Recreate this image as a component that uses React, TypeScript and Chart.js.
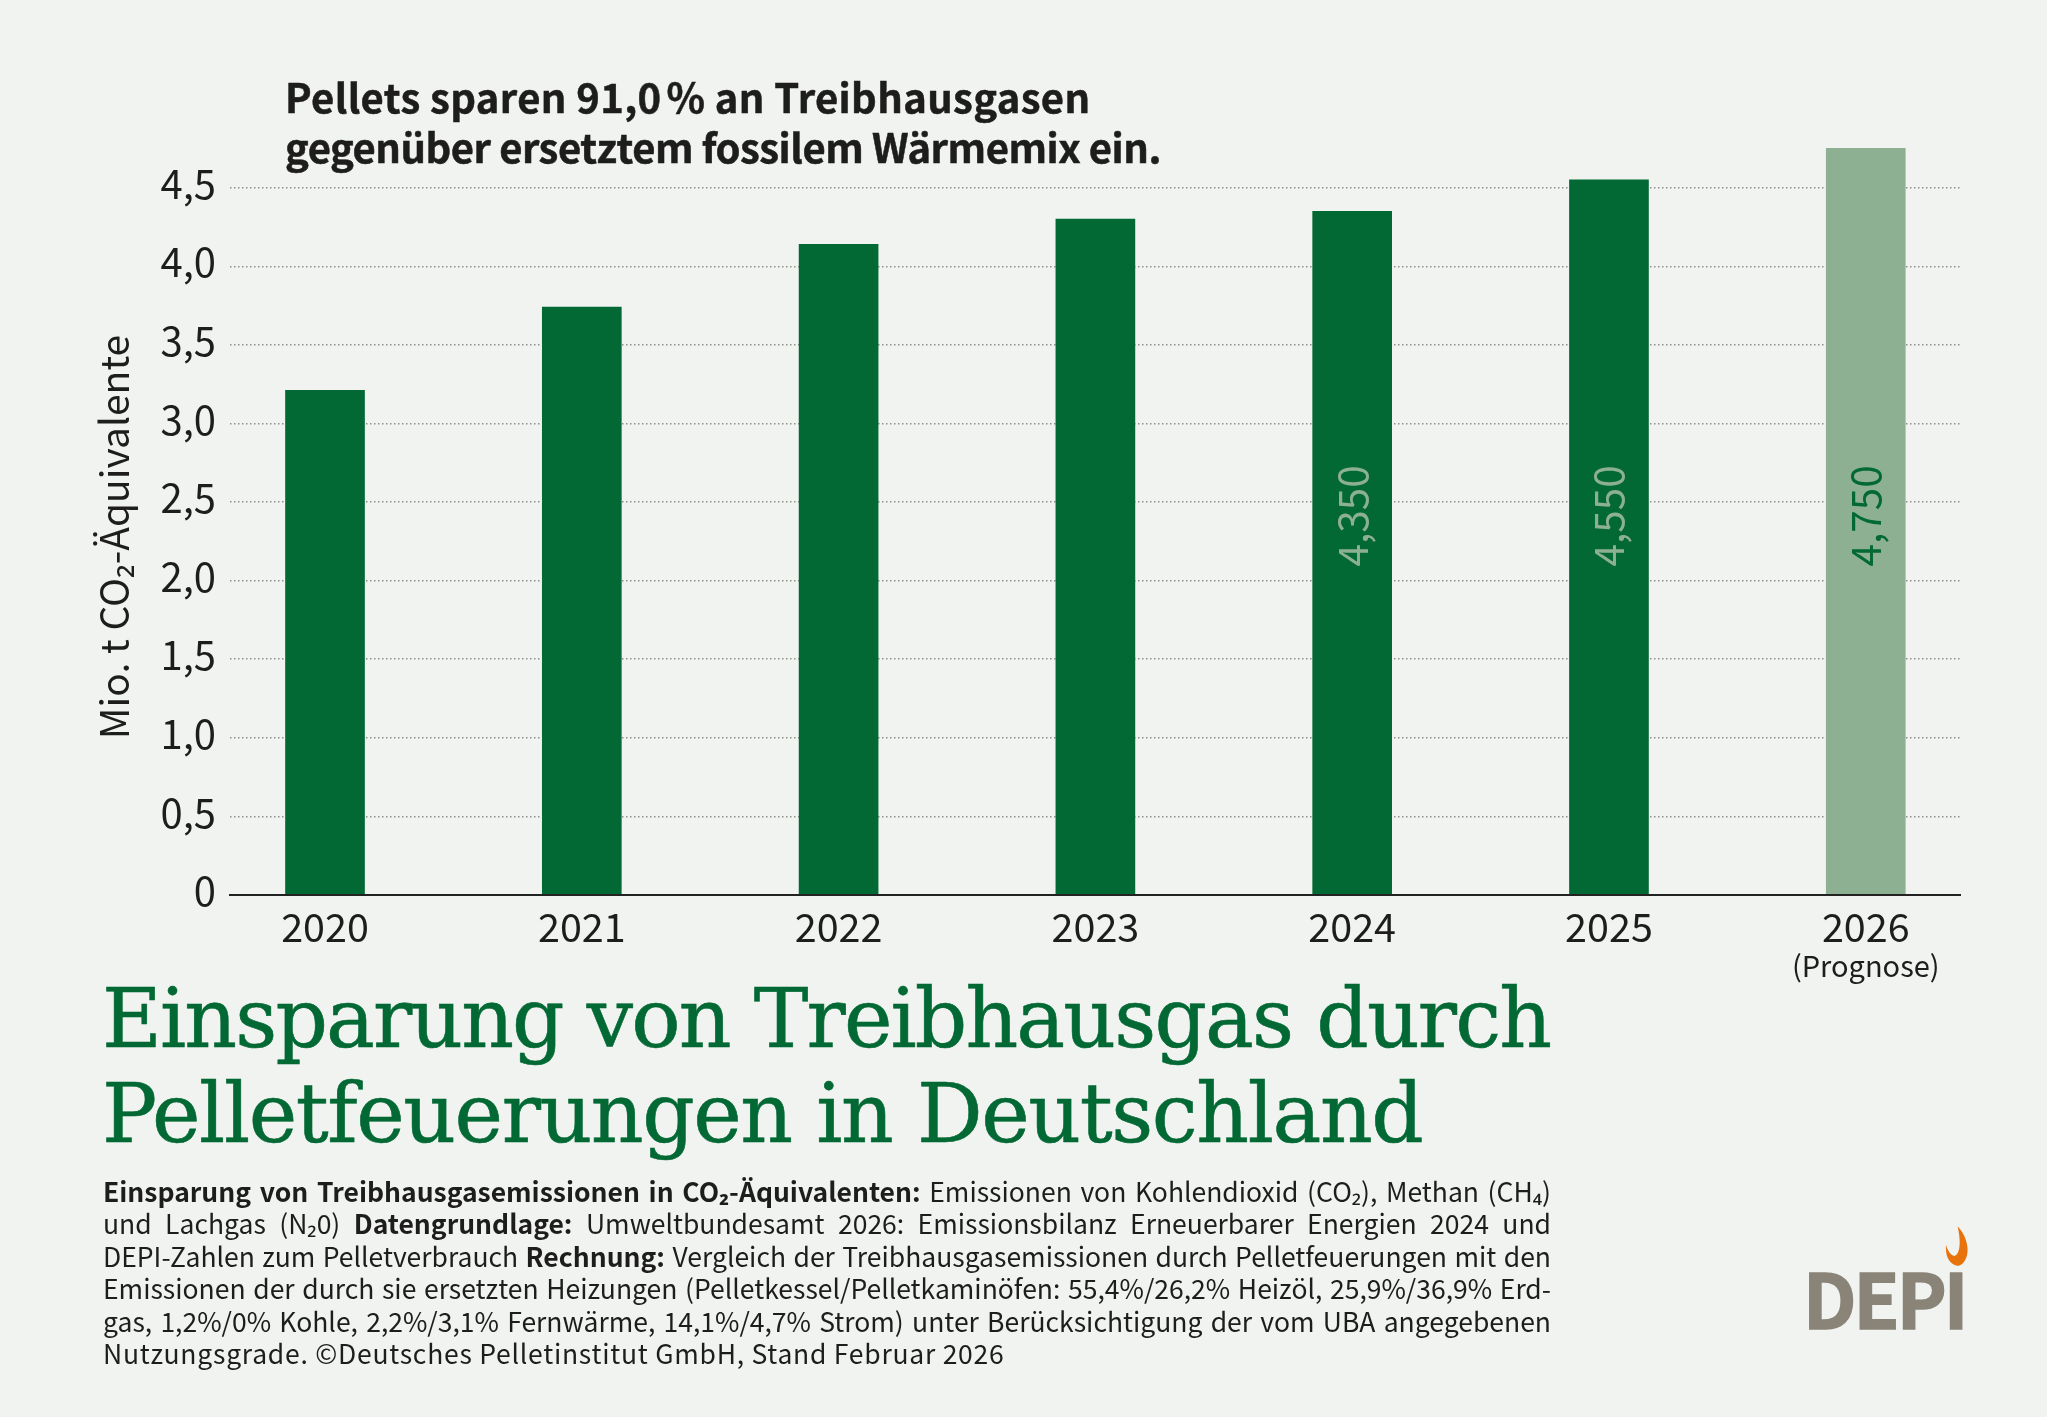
import React, { useEffect, useRef } from "react";
import { Chart, registerables } from "chart.js";

Chart.register(...registerables);

const SANS = '"Noto Sans CJK SC", "Noto Sans", sans-serif';
const INK = "#1d1d1b";
const GREEN = "#026934";
const LIGHT_GREEN = "#8DB092";
const PAGE = "#F1F3F0";

// data
const years = [2020, 2021, 2022, 2023, 2024, 2025, 2026];
const savings = [3.21, 3.74, 4.14, 4.3, 4.35, 4.55, 4.75];
const barLabels = ["", "", "", "", "4,350", "4,550", "4,750"];
const forecastYear = 2026;
const yTicks = [0, 0.5, 1, 1.5, 2, 2.5, 3, 3.5, 4, 4.5];

const headLines = [
  { text: "Pellets sparen 91,0\u202F% an Treibhausgasen", spacing: 0.37 },
  { text: "gegenüber ersetztem fossilem Wärmemix ein.", spacing: -0.47 },
];
const titleLines = [
  { text: "Einsparung von Treibhausgas durch", spacing: -1.9 },
  { text: "Pelletfeuerungen in Deutschland", spacing: -1.45 },
];
// [bold?, text] runs, one row per printed line
const noteLines: [boolean, string][][] = [
  [[true, "Einsparung von Treibhausgasemissionen in CO₂-Äquivalenten: "], [false, "Emissionen von Kohlendioxid (CO₂), Methan (CH₄)"]],
  [[false, "und Lachgas (N₂0) "], [true, "Datengrundlage: "], [false, "Umweltbundesamt 2026: Emissionsbilanz Erneuerbarer Energien 2024 und"]],
  [[false, "DEPI-Zahlen zum Pelletverbrauch "], [true, "Rechnung: "], [false, "Vergleich der Treibhausgasemissionen durch Pelletfeuerungen mit den"]],
  [[false, "Emissionen der durch sie ersetzten Heizungen (Pelletkessel/Pelletkaminöfen: 55,4%/26,2% Heizöl, 25,9%/36,9% Erd-"]],
  [[false, "gas, 1,2%/0% Kohle, 2,2%/3,1% Fernwärme, 14,1%/4,7% Strom) unter Berücksichtigung der vom UBA angegebenen"]],
  [[false, "Nutzungsgrade. ©Deutsches Pelletinstitut GmbH, Stand Februar 2026"]],
];

const chartExtras = {
  id: "chartExtras",
  afterDatasetsDraw(chart: any) {
    const { ctx, scales } = chart;
    const meta = chart.getDatasetMeta(0);
    ctx.save();
    ctx.fillStyle = INK;

    // rotated axis title
    ctx.save();
    ctx.translate(114, 537);
    ctx.rotate(-Math.PI / 2);
    ctx.font = `39px ${SANS}`;
    ctx.textAlign = "center";
    ctx.textBaseline = "middle";
    ctx.fillText("Mio. t CO₂-Äquivalente", 0, 0);
    ctx.restore();

    // values written up inside the last bars
    barLabels.forEach((label, i) => {
      if (!label) return;
      ctx.save();
      ctx.translate(meta.data[i].x, scales.y.getPixelForValue(2.09));
      ctx.rotate(-Math.PI / 2);
      ctx.font = `40.5px ${SANS}`;
      ctx.textAlign = "left";
      ctx.textBaseline = "middle";
      ctx.fillStyle = years[i] === forecastYear ? GREEN : LIGHT_GREEN;
      ctx.fillText(label, 0, 0);
      ctx.restore();
    });

    // second line under the forecast year
    ctx.font = `29px ${SANS}`;
    ctx.textAlign = "center";
    ctx.textBaseline = "middle";
    ctx.fillText("(Prognose)", scales.x.getPixelForValue(forecastYear), 966);
    ctx.restore();
  },
};

const App: React.FC = () => {
  const canvasRef = useRef<HTMLCanvasElement | null>(null);

  useEffect(() => {
    if (!canvasRef.current) return;
    const chart = new Chart(canvasRef.current, {
      type: "bar",
      data: {
        datasets: [
          {
            data: years.map((year, i) => ({ x: year, y: savings[i] })),
            backgroundColor: years.map((year) => (year === forecastYear ? LIGHT_GREEN : GREEN)),
            barThickness: 79,
          },
        ],
      },
      options: {
        responsive: false,
        animation: false,
        devicePixelRatio: 1,
        layout: { padding: { left: 0, top: 140.5, right: 87, bottom: 0 } },
        plugins: { legend: { display: false }, title: { display: false }, tooltip: { enabled: false } },
        scales: {
          x: {
            type: "linear",
            offset: false,
            min: 2019.63,
            max: 2026.367,
            afterFit: (scale: any) => {
              scale.height = 522;
            },
            grid: { display: false, drawTicks: false },
            border: { display: true, color: "#222", width: 2, z: 1 },
            ticks: {
              stepSize: 1,
              includeBounds: false,
              maxRotation: 0,
              autoSkip: false,
              padding: 8,
              color: INK,
              font: { family: SANS, size: 39.5 },
              callback: (value: any) => String(value),
            },
          },
          y: {
            min: 0,
            max: 4.8,
            afterFit: (scale: any) => {
              scale.width = 230;
            },
            afterBuildTicks: (scale: any) => {
              scale.ticks = yTicks.map((value) => ({ value }));
            },
            grid: {
              drawTicks: false,
              lineWidth: 1.5,
              color: (ctx: any) => (ctx.tick && ctx.tick.value === 0 ? "transparent" : "#8f8f8b"),
            },
            border: { display: false, dash: [1.5, 2.5] },
            ticks: {
              padding: 14,
              labelOffset: -4,
              color: INK,
              font: { family: SANS, size: 40 },
              callback: (value: any) => (value === 0 ? "0" : Number(value).toFixed(1).replace(".", ",")),
            },
          },
        },
      },
      plugins: [chartExtras],
    } as any);

    return () => {
      chart.destroy();
    };
  }, []);

  return (
    <div style={{ position: "absolute", left: 0, top: 0, width: 2047, height: 1417, background: PAGE, overflow: "hidden", fontFamily: SANS, color: INK }}>
      <canvas ref={canvasRef} width={2047} height={1417} style={{ position: "absolute", left: 0, top: 0 }} />

      <div style={{ position: "absolute", left: 285, top: 71, fontSize: 40, lineHeight: "50px", fontWeight: 700, whiteSpace: "nowrap", WebkitTextStroke: "0.5px " + INK }}>
        {headLines.map((line) => (
          <div key={line.text} style={{ letterSpacing: line.spacing }}>
            {line.text}
          </div>
        ))}
      </div>

      <div style={{ position: "absolute", left: 102, top: 972, fontFamily: '"DejaVu Serif", serif', fontSize: 82, lineHeight: "94.5px", color: GREEN, whiteSpace: "nowrap", WebkitTextStroke: "0.6px " + GREEN }}>
        {titleLines.map((line) => (
          <div key={line.text} style={{ letterSpacing: line.spacing }}>
            {line.text}
          </div>
        ))}
      </div>

      <div style={{ position: "absolute", left: 103, top: 1175, width: 1448, fontSize: 26.5, lineHeight: "32.4px" }}>
        {noteLines.map((runs, i) => (
          <div key={i} style={{ whiteSpace: "nowrap", textAlign: "justify", textAlignLast: i < 5 ? "justify" : "left", letterSpacing: i < 5 ? 0 : 0.75 }}>
            {runs.map(([bold, text], j) => (
              <span key={j} style={{ fontWeight: bold ? 700 : 400 }}>
                {text}
              </span>
            ))}
          </div>
        ))}
      </div>

      <div style={{ position: "absolute", left: 1803, top: 1247, fontSize: 75, lineHeight: "100px", fontWeight: 700, letterSpacing: -3, color: "#8A8478", whiteSpace: "nowrap", WebkitTextStroke: "1.5px #8A8478" }}>DEPI</div>
      <svg width="23" height="40" viewBox="0 0 22 38" style={{ position: "absolute", left: 1945, top: 1226 }}>
        <path d="M12 0 C20 8 23 20 21 28 C19 35 15 38 12 38 C5 37 0 30 1 18 C2 22 6 30 10 28 C15 25 15 12 12 0 Z" fill="#E8730C" />
      </svg>
    </div>
  );
};

export default App;
